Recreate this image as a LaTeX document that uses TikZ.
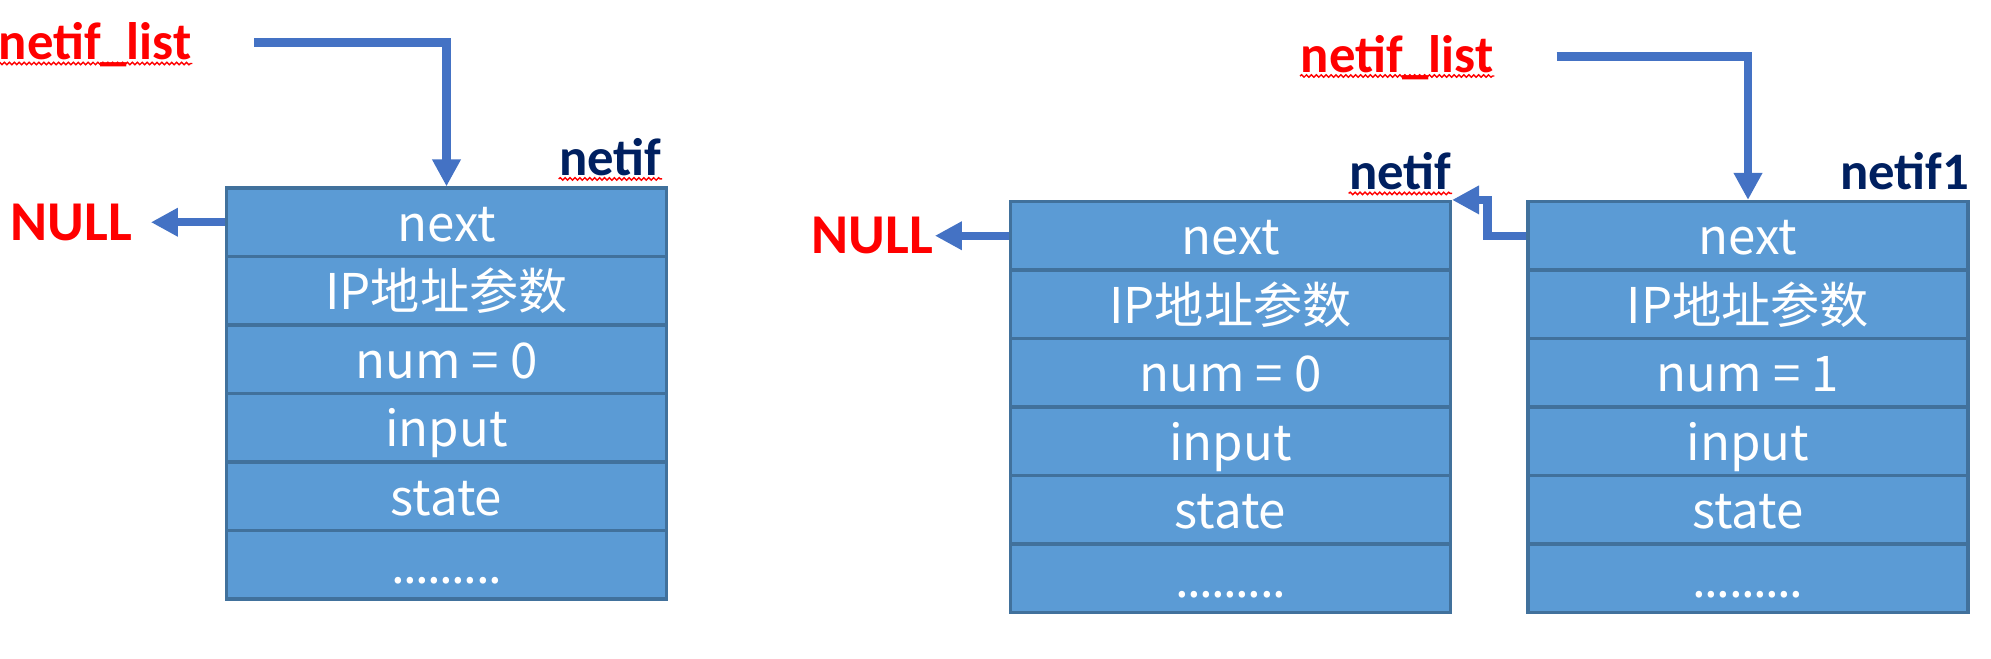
\documentclass[tikz,border=0pt]{standalone}
\usepackage{fontspec}
\usepackage{tikz}
\usetikzlibrary{arrows.meta,decorations.pathmorphing,positioning}
\newfontfamily\cjk{Noto Sans CJK SC}
\newfontfamily\lab{Carlito}
\definecolor{boxfill}{HTML}{5B9BD5}
\definecolor{boxline}{HTML}{41719C}
\definecolor{ptrblue}{HTML}{4472C4}
\definecolor{navy}{HTML}{002060}
\newcommand\RowH{0.685}
\newcommand\Dots{.\kern-.45pt.\kern-.45pt.\kern-.45pt.\kern-.45pt.\kern-.45pt.\kern-.45pt.\kern-.45pt.\kern-.45pt.}
\tikzset{
  field/.style={
    shape = rectangle,
    draw = boxline,
    fill = boxfill,
    line width = 0.9pt,
    minimum width = 4.40cm,
    minimum height = \RowH cm,
    text height = 0.48cm,
    text depth = 0.10cm,
    inner sep = 0pt,
    text = white,
    font = \cjk\fontsize{14}{16}\selectfont
  },
}
\tikzset{
  ptr/.style={
    draw = ptrblue,
    line width = 2.4pt,
    -{Triangle[length=2.7mm,width=2.7mm]}
  },
  head/.style={
    anchor = base west,
    font = \lab\bfseries\fontsize{15}{18}\selectfont,
    text = red,
    inner sep = 0pt
  },
  nul/.style={
    anchor = east,
    font = \lab\bfseries\fontsize{16}{19}\selectfont,
    text = red,
    inner sep = 0pt
  },
  tag/.style={
    anchor = base east,
    font = \lab\bfseries\fontsize{15}{18}\selectfont,
    text = navy,
    inner sep = 0pt
  },
  squiggle/.style={
    draw = red,
    line width = 0.4pt,
    decorate,
    decoration = {snake, amplitude=0.35pt, segment length=1.4pt}
  }
}

\begin{document}
\begin{tikzpicture}
    \useasboundingbox (0,0) rectangle (19.91,-6.59);

    \foreach \txt [count=\k] in {next,IP地址参数,num = 0,input,state,\Dots}
        \node[field] (L\k) at (4.465,{-1.88-\RowH/2-\RowH*(\k-1)}) {\txt};
    \foreach \txt [count=\k] in {next,IP地址参数,num = 0,input,state,\Dots}
        \node[field] (A\k) at (12.305,{-2.015-\RowH/2-\RowH*(\k-1)}) {\txt};
    \foreach \txt [count=\k] in {next,IP地址参数,num = 1,input,state,\Dots}
        \node[field] (B\k) at (17.48,{-2.015-\RowH/2-\RowH*(\k-1)}) {\txt};

    \node[head] (listA) at (-0.02,-0.60) {netif\_list};
    \node[head] (listB) at (13.00,-0.725) {netif\_list};
    \node[tag] (tagA) at ([xshift=-0.06cm,yshift=0.11cm]L1.north east) {netif};
    \node[tag] (tagB) at ([yshift=0.10cm]A1.north east) {netif};
    \node[tag] (tagC) at ([yshift=0.10cm]B1.north east) {netif1};
    \node[nul] (nullA) at ([xshift=-0.92cm]L1.west) {NULL};
    \node[nul] (nullB) at ([xshift=-0.75cm]A1.west) {NULL};

    \coordinate (srcA) at (2.54,-0.425);
    \coordinate (srcB) at (15.565,-0.565);

    \draw[ptr] (srcA) -| (L1.north);
    \draw[ptr] (srcB) -| (B1.north);
    \draw[ptr] (L1.west) -- ([xshift=1.8mm]nullA.east);
    \draw[ptr] (A1.west) -- ([xshift=0.1mm]nullB.east);
    \draw[ptr] (B1.west) -- ++(-0.39,0) |- (A1.north east);

    \draw[squiggle] ([yshift=-1pt]listA.base west) -- ([yshift=-1pt]listA.base east);
    \draw[squiggle] ([yshift=-1pt]listB.base west) -- ([yshift=-1pt]listB.base east);
    \draw[squiggle] ([yshift=-1pt]tagA.base west) -- ([yshift=-1pt]tagA.base east);
    \draw[squiggle] ([yshift=-1pt]tagB.base west) -- ([yshift=-1pt]tagB.base east);
\end{tikzpicture}
\end{document}
